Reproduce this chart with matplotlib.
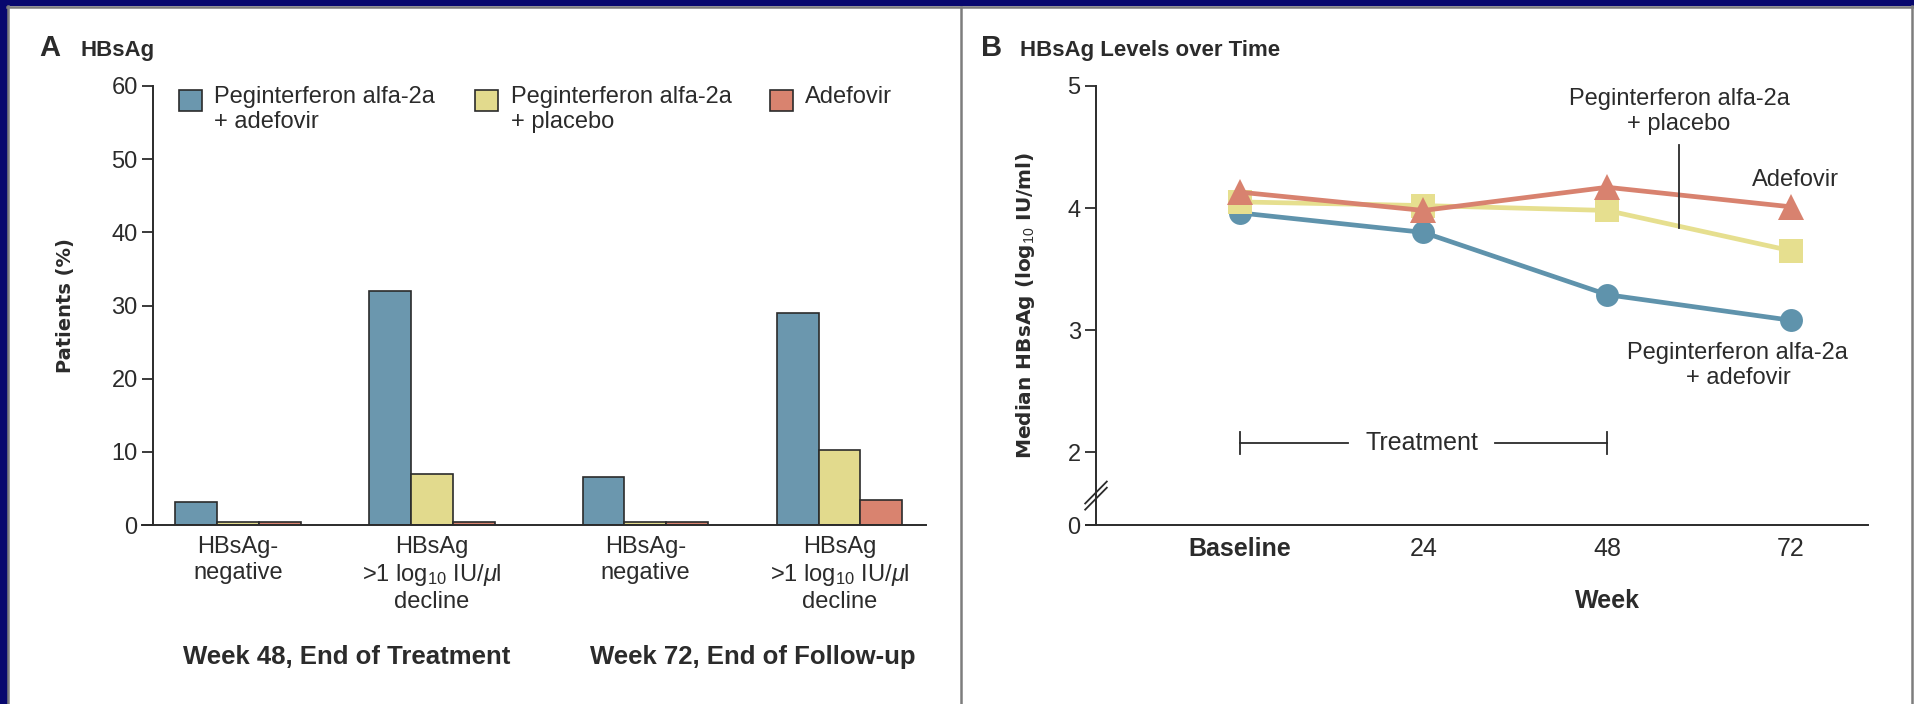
import matplotlib
matplotlib.use("Agg")
import matplotlib.pyplot as plt
from matplotlib.patches import Rectangle
from matplotlib.lines import Line2D

# --- Data --------------------------------------------------------------------
series_labels = ["Peginterferon alfa-2a\n+ adefovir",
                 "Peginterferon alfa-2a\n+ placebo",
                 "Adefovir"]
bar_colors = ["#6b97ae", "#e2da8d", "#d9836f"]
line_colors = ["#5f93ac", "#e6df8f", "#d8826f"]

# Panel A - patients (%)
categories = ["HBsAg-\nnegative", "HBsAg\n>1 log$_{10}$ IU/$\\mu$l\ndecline",
              "HBsAg-\nnegative", "HBsAg\n>1 log$_{10}$ IU/$\\mu$l\ndecline"]
group_pos = [0, 1, 2.1, 3.1]
pct_combo = [3.2, 32.0, 6.6, 29.0]
pct_placebo = [0.35, 7.0, 0.35, 10.3]
pct_adefovir = [0.35, 0.35, 0.35, 3.4]
period_labels = ["Week 48, End of Treatment", "Week 72, End of Follow-up"]

# Panel B - median HBsAg (log10 IU/ml)
weeks = [0, 24, 48, 72]
week_labels = ["Baseline", "24", "48", "72"]
hbsag_combo = [3.96, 3.80, 3.29, 3.08]
hbsag_placebo = [4.05, 4.02, 3.98, 3.65]
hbsag_adefovir = [4.13, 3.98, 4.17, 4.01]

# --- Style -------------------------------------------------------------------
FONT = "Liberation Sans"
plt.rcParams["font.family"] = [FONT, "DejaVu Sans"]
plt.rcParams["mathtext.fontset"] = "custom"
plt.rcParams["mathtext.rm"] = FONT
plt.rcParams["mathtext.it"] = FONT + ":italic"
plt.rcParams["mathtext.bf"] = FONT + ":bold"
INK = "#2b2b2b"
TXT = 17      # annotation / legend text
TICK = 17     # tick labels
W, H = 1914, 704


def fx(x):
    return x / W


def fy(y):
    return 1 - y / H


fig = plt.figure(figsize=(W / 100, H / 100), dpi=100, facecolor="white")

# frame: navy border on left/top, grey rules, divider between panels
navy = "#07076e"
fig.patches.append(Rectangle((0, 0), fx(7), 1, transform=fig.transFigure,
                             color=navy, zorder=-5))
fig.patches.append(Rectangle((0, fy(5)), 1, 5 / H, transform=fig.transFigure,
                             color=navy, zorder=-5))
for xs, ys in [([fx(8), fx(8)], [0, fy(6)]), ([fx(7), 1], [fy(7), fy(7)]),
               ([fx(1912), fx(1912)], [0, fy(6)]), ([fx(961), fx(961)], [0, fy(7)])]:
    fig.add_artist(Line2D(xs, ys, transform=fig.transFigure, color="#7d7d7d", lw=1.8))

# --- Panel A -----------------------------------------------------------------
axA = fig.add_axes([fx(153), fy(525), fx(926 - 153), 439 / H])
bw = 0.216
for vals, off, c in zip([pct_combo, pct_placebo, pct_adefovir], [-bw, 0, bw], bar_colors):
    axA.bar([p + off for p in group_pos], vals, width=bw, color=c,
            edgecolor=INK, linewidth=1.2)
axA.set_ylim(0, 60)
axA.set_xlim(-0.438, 3.546)
axA.set_yticks(range(0, 61, 10))
axA.set_xticks(group_pos)
axA.set_xticklabels(categories, fontsize=TICK, color=INK, linespacing=1.2)
axA.tick_params(axis="x", length=0, pad=8)
axA.tick_params(axis="y", length=8, width=1.3, color=INK, labelsize=TICK,
                labelcolor=INK, pad=3)
for s in ["top", "right"]:
    axA.spines[s].set_visible(False)
for s in ["left", "bottom"]:
    axA.spines[s].set_color(INK)
    axA.spines[s].set_linewidth(1.4)
axA.spines["bottom"].set_bounds(-0.495, 3.546)
axA.set_ylabel("Patients (%)", family="DejaVu Sans", fontweight="bold",
               fontsize=14, color=INK)
axA.yaxis.set_label_coords(-0.101, 0.5)
for lab, x in zip(period_labels, [0.56, 2.655]):
    axA.text(x, -0.30, lab, transform=axA.get_xaxis_transform(), ha="center",
             va="center", fontsize=18.5, fontweight="bold", color=INK)

# legend drawn by hand to match the original layout
for lab, c, px_, tx in zip(series_labels, bar_colors, [179, 475, 770], [214, 511, 805]):
    fig.patches.append(Rectangle((fx(px_), fy(111)), fx(23), 21 / H,
                                 transform=fig.transFigure, facecolor=c,
                                 edgecolor=INK, linewidth=1.2))
    fig.text(fx(tx), fy(86), lab, ha="left", va="top", fontsize=TXT,
             color=INK, linespacing=1.15)

fig.text(fx(39), fy(56), "A", fontsize=21, fontweight="bold", color=INK)
fig.text(fx(81), fy(56), "HBsAg", fontsize=16, fontweight="bold", color=INK)

# --- Panel B -----------------------------------------------------------------
axB = fig.add_axes([fx(1096), fy(525), fx(1868 - 1096), 439 / H])
y0 = 1.402  # position of the broken-axis zero
for vals, mk, ms, c in zip([hbsag_combo, hbsag_placebo, hbsag_adefovir],
                           ["o", "s", "^"], [16.5, 17, 18.5], line_colors):
    axB.plot(weeks, vals, color=c, lw=3.4, marker=mk, markersize=ms,
             markeredgewidth=0)
axB.set_xlim(-18.8, 82.1)
axB.set_ylim(y0, 5.0)
axB.set_yticks([y0, 2, 3, 4, 5])
axB.set_yticklabels(["0", "2", "3", "4", "5"])
axB.set_xticks(weeks)
axB.set_xticklabels(week_labels, fontsize=TICK + 1, color=INK)
axB.get_xticklabels()[0].set_fontweight("bold")
axB.tick_params(axis="x", length=0, pad=9)
axB.tick_params(axis="y", length=8, width=1.3, color=INK, labelsize=TICK,
                labelcolor=INK, pad=3)
for s in ["top", "right"]:
    axB.spines[s].set_visible(False)
for s in ["left", "bottom"]:
    axB.spines[s].set_color(INK)
    axB.spines[s].set_linewidth(1.4)
axB.spines["bottom"].set_bounds(-20.1, 82.1)
axB.set_ylabel("Median HBsAg (log$_{10}$ IU/ml)", family="DejaVu Sans",
               fontweight="bold", fontsize=14.5, color=INK)
axB.yaxis.set_label_coords(-0.076, 0.5)
axB.text(0.662, -0.173, "Week", transform=axB.transAxes, ha="center",
         va="center", fontsize=18, fontweight="bold", color=INK)

# axis break marks
for dy in [0.0, 0.014]:
    axB.plot([-0.014, 0.014], [0.035 + dy, 0.085 + dy], transform=axB.transAxes,
             color=INK, lw=1.3, clip_on=False)

# treatment bracket
ty = 2.074
axB.plot([0, 14.2], [ty, ty], color=INK, lw=1.3)
axB.plot([33.4, 48], [ty, ty], color=INK, lw=1.3)
for xb in [0, 48]:
    axB.plot([xb, xb], [ty - 0.09, ty + 0.09], color=INK, lw=1.3)
axB.text(23.8, ty, "Treatment", ha="center", va="center", fontsize=TXT + 1, color=INK)

# series annotations
axB.text(57.4, 4.98, "Peginterferon alfa-2a\n+ placebo", ha="center", va="top",
         fontsize=TXT, color=INK, linespacing=1.15)
axB.plot([57.4, 57.4], [4.52, 3.84], color=INK, lw=1.3)
axB.text(72.6, 4.23, "Adefovir", ha="center", va="center", fontsize=TXT, color=INK)
axB.text(65.1, 2.90, "Peginterferon alfa-2a\n+ adefovir", ha="center", va="top",
         fontsize=TXT, color=INK, linespacing=1.15)

fig.text(fx(981), fy(56), "B", fontsize=21, fontweight="bold", color=INK)
fig.text(fx(1020), fy(56), "HBsAg Levels over Time", fontsize=16,
         fontweight="bold", color=INK)

fig.savefig("out.png", dpi=100, facecolor="white")
